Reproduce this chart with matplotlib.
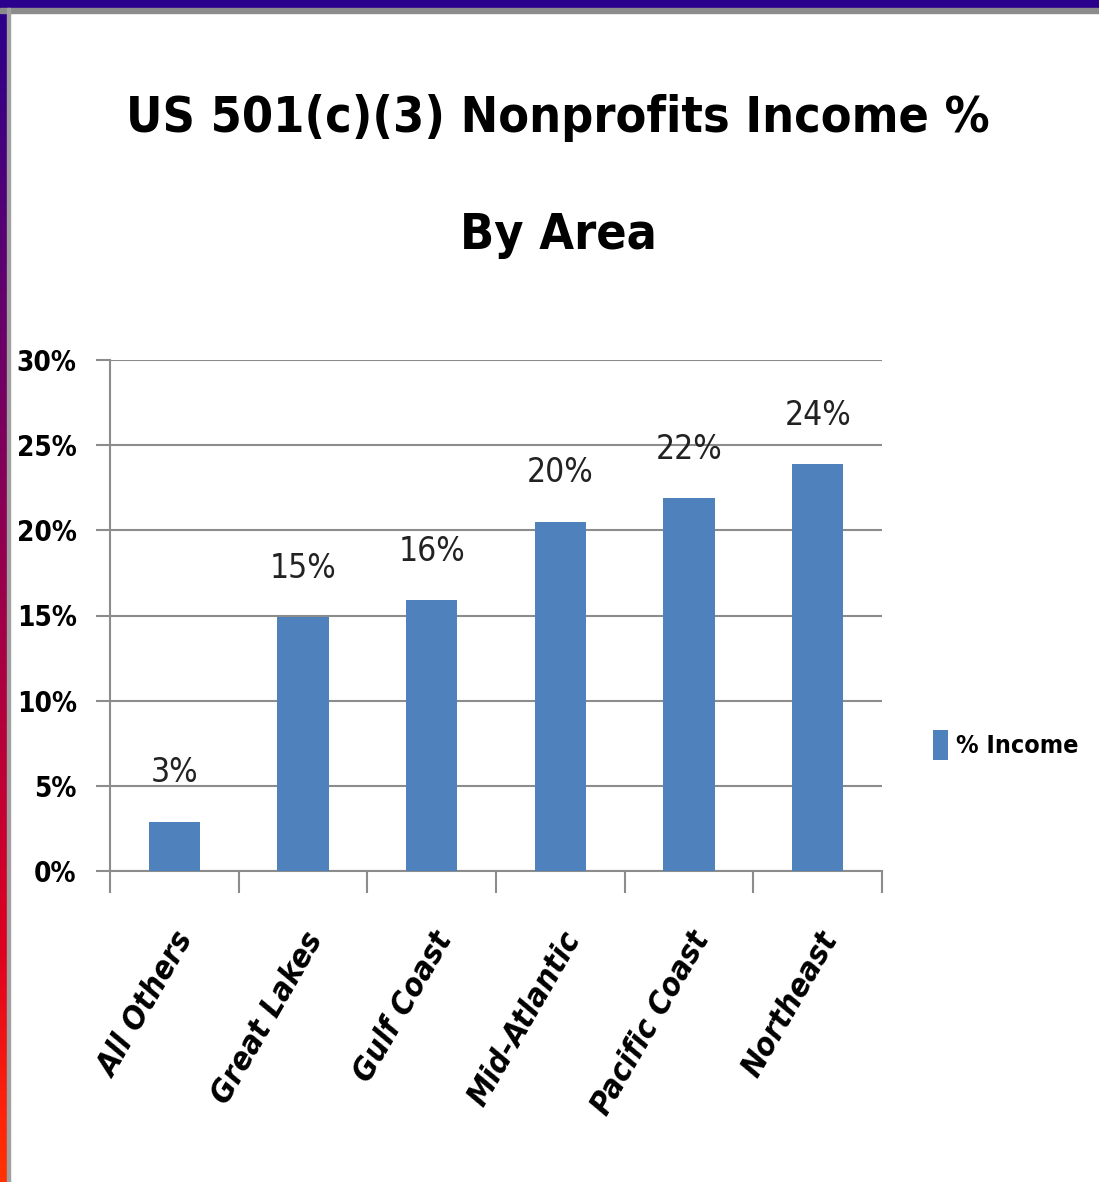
import os
import numpy as np
import matplotlib
matplotlib.use("Agg")
import matplotlib.pyplot as plt
from matplotlib import font_manager as fm
from matplotlib.font_manager import FontProperties

# data
areas = ["All Others", "Great Lakes", "Gulf Coast", "Mid-Atlantic", "Pacific Coast", "Northeast"]
income = [2.9, 14.9, 15.9, 20.5, 21.9, 23.9]
bar_labels = ["3%", "15%", "16%", "20%", "22%", "24%"]
yticks = [0, 5, 10, 15, 20, 25, 30]

# the slide uses a condensed face, look for a narrow one
files = {os.path.basename(f).lower(): f for f in fm.findSystemFonts()}

def pick(keys, weight="normal", style="normal"):
    for k in keys:
        if k in files:
            return FontProperties(fname=files[k])
    return FontProperties(family="DejaVu Sans", weight=weight, style=style, stretch="condensed")

f_bold = pick(["dejavusanscondensed-bold.ttf", "liberationsansnarrow-bold.ttf"], weight="bold")
f_reg = pick(["dejavusanscondensed.ttf", "liberationsansnarrow-regular.ttf"])
f_ital = pick(["dejavusanscondensed-boldoblique.ttf", "liberationsansnarrow-bolditalic.ttf"],
              weight="bold", style="oblique")

def fp(base, size):
    p = base.copy()
    p.set_size(size)
    return p

fig = plt.figure(figsize=(10.99, 11.82), dpi=100)
W, H = 1099, 1182

# slide frame: dark band on top, gradient band on left, thin gray inner edge
top = fig.add_axes([0, 1 - 8 / H, 1, 8 / H])
top.set_axis_off()
top.imshow([[[0.17, 0.0, 0.55]]], aspect="auto", extent=[0, 1, 0, 1])
fig.patches.append(plt.Rectangle((0, 1 - 13 / H), 1, 5 / H, transform=fig.transFigure,
                                 color="#8c8c8c", zorder=0))
grad = np.linspace(0, 1, 256)
cols = np.zeros((256, 1, 3))
cols[:, 0, 0] = 0.17 + 0.83 * np.clip(grad * 1.05, 0, 1)
cols[:, 0, 1] = 0.2 * np.clip((grad - 0.8) / 0.2, 0, 1)
cols[:, 0, 2] = 0.55 * (1 - grad) ** 0.9
left = fig.add_axes([0, 0, 7 / W, 1])
left.set_axis_off()
left.imshow(cols, aspect="auto", extent=[0, 1, 0, 1])
fig.patches.append(plt.Rectangle((7 / W, 0), 3 / W, 1 - 8 / H, transform=fig.transFigure,
                                 color="#a0a0a0", zorder=0))

# title
tp = fp(f_bold, 36)
fig.text(0.508, 1 - 118 / H, "US 501(c)(3) Nonprofits Income %", ha="center", va="center",
         fontproperties=tp)
fig.text(0.508, 1 - 235 / H, "By Area", ha="center", va="center", fontproperties=tp)

ax = fig.add_axes([110 / W, 1 - 871 / H, 772 / W, 511 / H])
x = np.arange(len(areas))
bars = ax.bar(x, income, width=0.4, color="#4f81bd", label="% Income", zorder=3)

for b, lab in zip(bars, bar_labels):
    ax.text(b.get_x() + b.get_width() / 2, b.get_height() + 1.9, lab, ha="center", va="bottom",
            fontproperties=fp(f_reg, 24), color="#222222")

ax.set_xlim(-0.5, len(areas) - 0.5)
ax.set_ylim(0, 30)
ax.set_yticks(yticks)
ax.set_yticklabels([f"{v}%" for v in yticks], fontproperties=fp(f_bold, 20))
ax.yaxis.grid(True, color="#8c8c8c", linewidth=1.5, zorder=0)
ax.tick_params(axis="y", length=10, width=1.5, color="#8c8c8c", pad=14)

ax.set_xticks(np.arange(len(areas) + 1) - 0.5)
ax.set_xticklabels([])
ax.set_xticks(x, minor=True)
ax.set_xticklabels(areas, minor=True, rotation=60, ha="right", va="top",
                   rotation_mode="anchor", fontproperties=fp(f_ital, 23))
ax.tick_params(axis="x", which="major", length=16, width=1.5, color="#8c8c8c")
ax.tick_params(axis="x", which="minor", length=0, pad=40)

for s in ["top", "right"]:
    ax.spines[s].set_visible(False)
for s in ["left", "bottom"]:
    ax.spines[s].set_color("#8c8c8c")
    ax.spines[s].set_linewidth(1.5)

fig.legend(handles=[bars], loc="center left", bbox_to_anchor=(910 / W, 1 - 745 / H),
           frameon=False, prop=fp(f_bold, 18), handlelength=0.6, handleheight=1.5,
           handletextpad=0.35)

fig.savefig("out.png", dpi=100, facecolor="white")
